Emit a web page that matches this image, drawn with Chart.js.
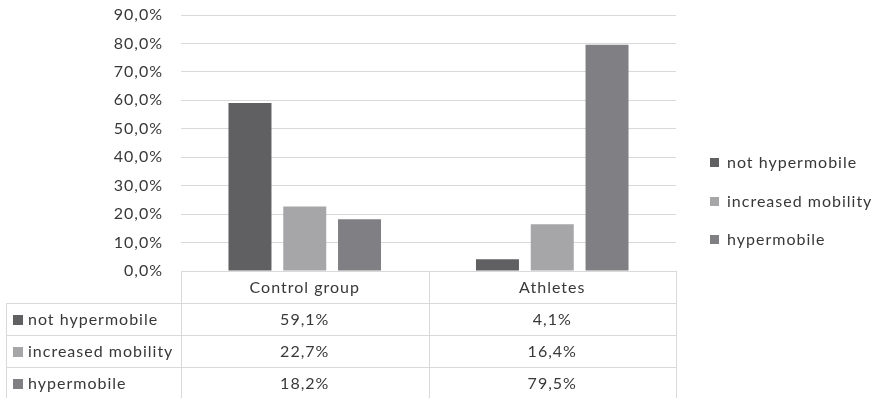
<!DOCTYPE html>
<html>
<head>
<meta charset="utf-8">
<script src="https://cdn.jsdelivr.net/npm/chart.js@4.4.1/dist/chart.umd.min.js"></script>
<style>
  html, body { margin: 0; padding: 0; background: #fff; }
  #wrap { width: 878px; height: 398px; position: relative; }
</style>
</head>
<body>
<div id="wrap"><canvas id="chart"></canvas></div>
<script>
const categories = ['Control group', 'Athletes'];
const seriesNames = ['not hypermobile', 'increased mobility', 'hypermobile'];
const notHypermobile = [59.1, 4.1];
const increasedMobility = [22.7, 16.4];
const hypermobile = [18.2, 79.5];
const yMin = 0, yMax = 90, yStep = 10;

const colors = ['#606062', '#a6a6a8', '#808084'];
const seriesValues = [notHypermobile, increasedMobility, hypermobile];
const FONT = 'Lato';
const TEXT = '#383838';
const LINE = '#d9d9d9';
const SPACING = '1px';

const pct = v => v.toFixed(1).replace('.', ',') + '%';

const spacingPlugin = {
    id: 'spacing',
    beforeDraw(chart) { chart.ctx.letterSpacing = SPACING; },
};

// legend on the right + data table under the plot
const tablePlugin = {
    id: 'dataTable',
    afterDraw(chart) {
        const { ctx, chartArea, scales } = chart;
        const x = scales.x;
        const left = 6, top = chartArea.bottom, rowH = 32;
        const edges = [chartArea.left];
        categories.forEach((c, i) => {
            edges.push(i < categories.length - 1
                ? (x.getPixelForValue(i) + x.getPixelForValue(i + 1)) / 2
                : chartArea.right);
        });
        ctx.save();
        ctx.letterSpacing = SPACING;
        ctx.strokeStyle = LINE;
        ctx.lineWidth = 1;
        const hline = (x1, x2, y) => {
            ctx.beginPath(); ctx.moveTo(x1, Math.round(y) + 0.5); ctx.lineTo(x2, Math.round(y) + 0.5); ctx.stroke();
        };
        const vline = (xx, y1, y2) => {
            ctx.beginPath(); ctx.moveTo(Math.round(xx) + 0.5, y1); ctx.lineTo(Math.round(xx) + 0.5, y2); ctx.stroke();
        };
        const bottom = top + rowH * (seriesNames.length + 1);
        hline(chartArea.left, chartArea.right, top);
        for (let r = 1; r <= seriesNames.length; r++) hline(left, chartArea.right, top + rowH * r);
        vline(left, top + rowH, bottom);
        edges.forEach(e => vline(e, top, bottom));

        ctx.font = '16px ' + FONT;
        ctx.fillStyle = TEXT;
        ctx.textBaseline = 'middle';
        ctx.textAlign = 'center';
        categories.forEach((c, i) => ctx.fillText(c, x.getPixelForValue(i), top + rowH / 2 + 1));
        seriesNames.forEach((name, r) => {
            const cy = top + rowH * (r + 1) + rowH / 2 + 1;
            ctx.fillStyle = colors[r];
            ctx.fillRect(13, cy - 5, 10, 10);
            ctx.fillStyle = TEXT;
            ctx.textAlign = 'left';
            ctx.fillText(name, 28, cy);
            ctx.textAlign = 'center';
            seriesValues[r].forEach((v, i) => ctx.fillText(pct(v), x.getPixelForValue(i), cy));
        });

        // legend
        const legendY = [163, 202, 240];
        seriesNames.forEach((name, r) => {
            ctx.fillStyle = colors[r];
            ctx.fillRect(710, legendY[r] - 5, 9, 9);
            ctx.fillStyle = TEXT;
            ctx.textAlign = 'left';
            ctx.fillText(name, 727, legendY[r]);
        });
        ctx.restore();
    },
};

new Chart(document.getElementById('chart'), {
    type: 'bar',
    data: {
        labels: categories,
        datasets: seriesNames.map((name, i) => ({
            label: name,
            data: seriesValues[i],
            backgroundColor: colors[i],
            borderWidth: 0,
            categoryPercentage: 0.664,
            barPercentage: 0.785,
        })),
    },
    options: {
        responsive: true,
        maintainAspectRatio: false,
        animation: false,
        layout: { padding: { left: 0, right: 202, top: 15, bottom: 127 } },
        plugins: {
            legend: { display: false },
            tooltip: { enabled: false },
        },
        scales: {
            x: { display: false },
            y: {
                min: yMin, max: yMax,
                afterFit(scale) {
                    scale.width = 181;
                    scale.paddingTop = 0;
                    scale.paddingBottom = 0;
                },
                border: { display: false },
                grid: { color: LINE, drawTicks: false, lineWidth: 1 },
                ticks: {
                    stepSize: yStep,
                    padding: 18,
                    color: TEXT,
                    font: { family: FONT, size: 16 },
                    callback: v => pct(v),
                },
            },
        },
    },
    plugins: [spacingPlugin, tablePlugin],
});
</script>
</body>
</html>
